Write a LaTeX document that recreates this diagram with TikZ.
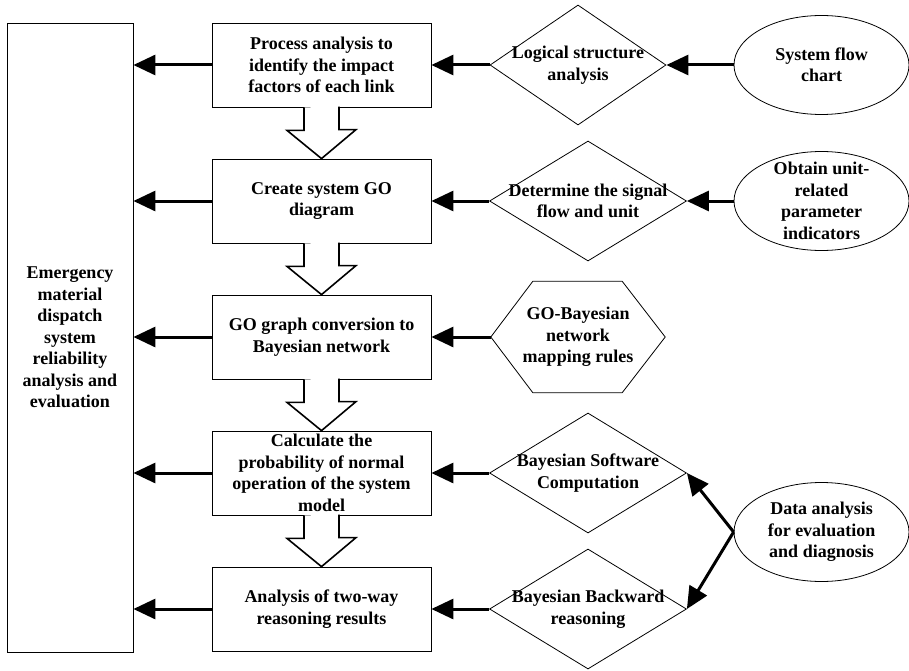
\documentclass[tikz,border=0pt]{standalone}
\usepackage{fontspec}
\setmainfont{Liberation Serif}
\usetikzlibrary{shapes.geometric,arrows.meta}

\tikzset{
	box/.style={shape=rectangle,draw=black,line width=0.8pt,minimum width=219pt,minimum height=84pt,inner sep=0pt,align=center},
	tallbox/.style={shape=rectangle,draw=black,line width=0.8pt,minimum width=126pt,minimum height=629pt,inner sep=0pt,align=center},
	decision/.style={shape=diamond,draw=black,line width=0.8pt,minimum width=197pt,minimum height=120pt,inner sep=0pt},
	oval/.style={shape=ellipse,draw=black,line width=0.8pt,minimum width=175pt,minimum height=99pt,inner sep=0pt},
	hexbox/.style={shape=rectangle,minimum width=174pt,minimum height=111pt,inner sep=0pt,align=center},
	txt/.style={align=center,inner sep=0pt},
	flow/.style={line width=3pt,-{Triangle[length=22pt,width=20pt]}},
	hollow/.style={draw=black,fill=white,line width=1.6pt,line join=miter}
}

\begin{document}
\begin{tikzpicture}[x=1pt,y=-1pt,font=\bfseries\fontsize{18pt}{21.5pt}\selectfont]
	
	\useasboundingbox (0,0) rectangle (909,671);
	
	\node[tallbox] (eval) at (70, 337.5) {Emergency\\material\\dispatch\\system\\reliability\\analysis and\\evaluation};
	
	\node[box] (proc)   at (321.5, 65)  {Process analysis to\\identify the impact\\factors of each link};
	\node[box] (godiag) at (321.5, 201) {Create system GO\\diagram};
	\node[box] (conv)   at (321.5, 337) {GO graph conversion to\\Bayesian network};
	\node[box] (calc)   at (321.5, 473) {Calculate the\\probability of normal\\operation of the system\\model};
	\node[box] (twoway) at (321.5, 609) {Analysis of two-way\\reasoning results};
	
	\node[decision,minimum width=176pt,label={[txt]center:Logical structure\\analysis}] (logic) at (578, 65) {};
	\node[decision,label={[txt]center:Determine the signal\\flow and unit}] (signalflow) at (588, 201) {};
	\node[hexbox] (mapping) at (578, 337) {GO-Bayesian\\network\\mapping rules};
	\node[decision,label={[txt]center:Bayesian Software\\Computation}] (software) at (588, 473) {};
	\node[decision,label={[txt]center:Bayesian Backward\\reasoning}] (backward) at (588, 609) {};
	
	\node[oval,label={[txt]center:System flow\\chart}] (flowchart) at (821.5, 65) {};
	\node[oval,label={[txt]center:Obtain unit-\\related\\parameter\\indicators}] (params) at (821.5, 201) {};
	\node[oval,label={[txt]center:Data analysis\\for evaluation\\and diagnosis}] (data) at (821.5, 532) {};
	
	\draw[line width=0.8pt] (mapping.west) -- ([xshift=42pt]mapping.north west) -- ([xshift=-43pt]mapping.north east) -- (mapping.east) -- ([xshift=-43pt]mapping.south east) -- ([xshift=42pt]mapping.south west) -- cycle;
	
	\foreach \a/\b in {proc/godiag, godiag/conv, conv/calc, calc/twoway}
		\draw[hollow] (\a.south) ++(-17.5,0) -- ++(0,23) -- ++(-17,0) -- (\b.north) -- ++(34.5,-29) -- ++(-17,0) -- ++(0,-23);
	
	\foreach \n in {proc, godiag, conv, calc, twoway}
		\draw[flow] (\n.west) -- (\n.west -| eval.east);
	
	\path[flow] (logic) edge (proc);
	\path[flow] (signalflow) edge (godiag);
	\path[flow] (mapping) edge (conv);
	\path[flow] (software) edge (calc);
	\path[flow] (backward) edge (twoway);
	
	\path[flow] (flowchart) edge (logic);
	\path[flow] (params) edge (signalflow);
	\path[flow] (data.west) edge (software.east);
	\path[flow] (data.west) edge (backward.east);
	
\end{tikzpicture}
\end{document}
